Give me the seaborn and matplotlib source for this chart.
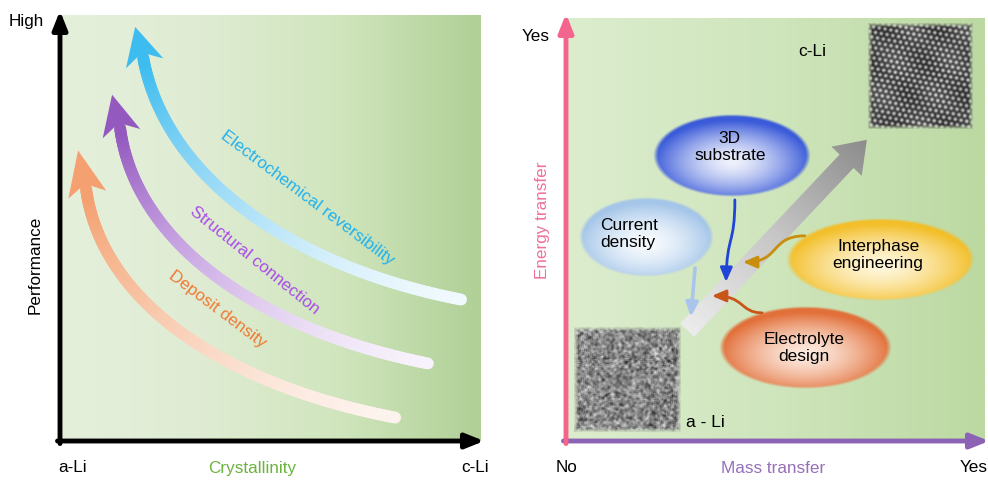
import numpy as np
import matplotlib
matplotlib.use('Agg')
import matplotlib.pyplot as plt
from matplotlib.patches import Polygon, FancyArrowPatch
from matplotlib.path import Path
from matplotlib.collections import LineCollection
from matplotlib.bezier import BezierSegment
import seaborn as sns

# ---------------- dane: lewy panel (jednostki osi 0..1) ----------------
left_xticks = [0.029, 0.988]
left_xticklabels = ['a-Li', 'c-Li']
left_yticks = [0.988]
left_yticklabels = ['High']
left_xlabel = 'Crystallinity'
left_ylabel = 'Performance'

curve_names = ['Deposit density', 'Structural connection', 'Electrochemical reversibility']
curve_head_colors = ['#f4a070', '#9459bf', '#3dbcef']
curve_mid_colors = ['#f8c6a8', '#c9a6e3', '#98d9f6']
curve_tail_colors = ['#fdf3ee', '#f7f2fb', '#f0f9fd']
curve_text_colors = ['#ef7a35', '#a94de8', '#22b2ee']
# punkty kontrolne krzywych Beziera: ogon, c1, c2, podstawa grotu
curve_ctrl = [
    [(0.798, 0.055), (0.40, 0.13), (0.10, 0.32), (0.062, 0.592)],
    [(0.876, 0.182), (0.48, 0.26), (0.18, 0.46), (0.143, 0.735)],
    [(0.955, 0.332), (0.55, 0.41), (0.25, 0.62), (0.198, 0.900)],
]
curve_tips = [(0.043, 0.682), (0.124, 0.813), (0.179, 0.972)]
curve_text_pos = [(0.376, 0.310), (0.464, 0.425), (0.590, 0.570)]
curve_text_rot = [-37, -39, -37]

# ---------------- dane: prawy panel ----------------
right_xticks = [0.0, 0.974]
right_xticklabels = ['No', 'Yes']
right_yticks = [0.96]
right_yticklabels = ['Yes']
right_xlabel = 'Mass transfer'
right_ylabel = 'Energy transfer'

ell_labels = ['3D\nsubstrate', 'Current\ndensity', 'Interphase\nengineering', 'Electrolyte\ndesign']
ell_centers = [(0.396, 0.676), (0.193, 0.482), (0.749, 0.428), (0.570, 0.220)]
ell_sizes = [(0.375, 0.196), (0.322, 0.189), (0.449, 0.196), (0.411, 0.194)]
ell_inner = ['#eef1fc', '#f8fbfe', '#fff7dc', '#fdeadf']
ell_outer = ['#3b5bd9', '#a5c6e9', '#f3bf2b', '#e2703a']
ell_text_pos = [(0.391, 0.695), (0.150, 0.489), (0.745, 0.440), (0.568, 0.220)]

big_arrow_tail = (0.289, 0.262)
big_arrow_tip = (0.718, 0.712)

# male strzalki: punkty kontrolne Beziera
small_arrows = [
    [(0.403, 0.570), (0.403, 0.463), (0.384, 0.487), (0.382, 0.376)],
    [(0.308, 0.409), (0.305, 0.370), (0.301, 0.332), (0.298, 0.293)],
    [(0.570, 0.485), (0.487, 0.485), (0.511, 0.423), (0.422, 0.423)],
    [(0.468, 0.303), (0.415, 0.303), (0.427, 0.343), (0.348, 0.343)],
]
small_arrow_colors = ['#1f44d8', '#a9c5ec', '#c98f0c', '#c85618']
small_arrow_widths = [2.0, 2.6, 2.0, 2.0]

img_aLi = [0.017, 0.277, 0.019, 0.270]
img_cLi = [0.718, 0.971, 0.735, 0.988]
phase_labels = ['c-Li', 'a - Li']
phase_label_pos = [(0.587, 0.920), (0.332, 0.043)]

sns.set_theme(style='white')
plt.rcParams['font.family'] = ['Liberation Sans', 'DejaVu Sans']

fig = plt.figure(figsize=(9.88, 4.8), dpi=100)
ax1 = fig.add_axes([60 / 988, 39 / 480, 420 / 988, 426 / 480])
ax2 = fig.add_axes([566 / 988, 39 / 480, 419 / 988, 423 / 480])


def background(ax, colors):
    pal = np.array(sns.blend_palette(colors, 256))[:, :3]
    ax.imshow(pal[np.newaxis, :, :], extent=[0, 1, 0, 1], aspect='auto', zorder=0)


def axis_arrows(ax, xcol, ycol):
    st = '-|>,head_width=0.22,head_length=0.55'
    ax.annotate('', xy=(1.01, 0), xytext=(-0.006, 0), xycoords='axes fraction',
                arrowprops=dict(arrowstyle=st, lw=3.5, color=xcol, mutation_scale=20,
                                shrinkA=0, shrinkB=0), annotation_clip=False, zorder=6)
    ax.annotate('', xy=(0, 1.01), xytext=(0, -0.006), xycoords='axes fraction',
                arrowprops=dict(arrowstyle=st, lw=3.5, color=ycol, mutation_scale=20,
                                shrinkA=0, shrinkB=0), annotation_clip=False, zorder=6)


# ---------------- lewy panel ----------------
background(ax1, ['#e5f0db', '#dfecd3', '#d0e5bd', '#b0d096'])
axis_arrows(ax1, 'black', 'black')

for ctrl, tip, hc, mc, tc in zip(curve_ctrl, curve_tips, curve_head_colors,
                                 curve_mid_colors, curve_tail_colors):
    pts = BezierSegment(np.array(ctrl))(np.linspace(0, 1, 160))
    segs = np.stack([pts[:-1], pts[1:]], axis=1)
    cmap = sns.blend_palette([tc, mc, hc], as_cmap=True)
    cols = cmap(np.linspace(0, 1, len(segs)) ** 1.5)
    ax1.add_collection(LineCollection(segs, colors=cols, linewidths=8.5,
                                      capstyle='round', zorder=2))
    base = np.array(ctrl[-1])
    tip = np.array(tip)
    d = (tip - base) / np.linalg.norm(tip - base)
    n = np.array([-d[1], d[0]])
    head = [tip, base + n * 0.046 - d * 0.014, base + d * 0.012, base - n * 0.046 - d * 0.014]
    ax1.add_patch(Polygon(head, closed=True, fc=hc, ec='none', zorder=2))

for name, pos, rot, col in zip(curve_names, curve_text_pos, curve_text_rot, curve_text_colors):
    ax1.text(pos[0], pos[1], name, rotation=rot, rotation_mode='anchor', ha='center',
             va='center', color=col, fontsize=12.3, zorder=3)

ax1.set_xticks(left_xticks, left_xticklabels)
ax1.set_yticks(left_yticks, left_yticklabels)
ax1.tick_params(axis='x', length=0, labelsize=12.3, pad=14, colors='black')
ax1.tick_params(axis='y', length=0, labelsize=12.3, pad=11.5, colors='black')
ax1.set_xlabel(left_xlabel, color='#6db33f', fontsize=12.3)
ax1.xaxis.set_label_coords(0.457, -0.047)
ax1.set_ylabel(left_ylabel, fontsize=12.3, va='center', color='black')
ax1.yaxis.set_label_coords(-0.06, 0.413)

# ---------------- prawy panel ----------------
background(ax2, ['#dcedce', '#cfe5bc', '#bcd9a2'])
axis_arrows(ax2, '#8c62b4', '#f4658e')

# tekstury obrazow TEM
n = 110
yy, xx = np.mgrid[0:n, 0:n].astype(float)
edge = np.minimum.reduce([xx, yy, n - 1 - xx, n - 1 - yy])
alpha_edge = np.clip(edge / 5.0, 0, 1)

k = 2 * np.pi / 5.2
lat = sum(np.cos(k * (xx * np.cos(a) + yy * np.sin(a))) for a in np.deg2rad([20, 80, 140]))
lat = (lat + 1.5) / 4.5 + 0.10 * np.cos(xx / 9.0 + yy / 23.0) * np.cos(yy / 11.0)
g_c = np.clip(0.20 + 0.62 * lat, 0, 1)
rgba_c = np.dstack([g_c, g_c, g_c, alpha_edge])

# ziarnista tekstura amorficzna (deterministyczny hash + lekkie wygladzenie)
h = np.sin(xx * 12.9898 + yy * 78.233) * 43758.5453
h = h - np.floor(h)
sm = sum(np.roll(np.roll(h, i, 0), j, 1) for i in (-1, 0, 1) for j in (-1, 0, 1)) / 9.0
sm = (sm - sm.mean()) / sm.std()
g_a = np.clip(0.53 + 0.11 * sm, 0, 1)
rgba_a = np.dstack([g_a, g_a, g_a, alpha_edge])

ax2.imshow(rgba_a, extent=img_aLi, origin='lower', aspect='auto', interpolation='bilinear', zorder=1)
ax2.imshow(rgba_c, extent=img_cLi, origin='lower', aspect='auto', interpolation='bilinear', zorder=1)

# duza szara strzalka z gradientem
x0, y0 = big_arrow_tail
dx, dy = big_arrow_tip[0] - x0, big_arrow_tip[1] - y0
arr = ax2.arrow(x0, y0, dx, dy, width=0.046, head_width=0.10, head_length=0.07,
                length_includes_head=True, fc='none', ec='none', zorder=2)
gx, gy = np.meshgrid(np.linspace(0, 1, 300), np.linspace(0, 1, 300))
u = np.clip(((gx - x0) * dx + (gy - y0) * dy) / (dx * dx + dy * dy), 0, 1)
gcmap = sns.blend_palette(['#ececec', '#c6c6c6', '#8c8c8c'], as_cmap=True)
grad = gcmap(u)
im = ax2.imshow(grad, extent=[0, 1, 0, 1], origin='lower', aspect='auto', zorder=2)
im.set_clip_path(arr)

# elipsy z gradientem radialnym
m = 240
ex, ey = np.meshgrid(np.linspace(-1, 1, m), np.linspace(-1, 1, m))
r = np.sqrt(ex ** 2 + ey ** 2)
rh = np.sqrt(ex ** 2 + (ey + 0.15) ** 2)
for (cx, cy), (w, hh), ci, co in zip(ell_centers, ell_sizes, ell_inner, ell_outer):
    cmap = sns.blend_palette([ci, co], as_cmap=True)
    rgba = cmap(np.clip(rh, 0, 1) ** 1.5)
    rgba[..., 3] = np.clip((1 - r) / 0.06, 0, 1)
    ax2.imshow(rgba, extent=[cx - w / 2, cx + w / 2, cy - hh / 2, cy + hh / 2], origin='lower',
               aspect='auto', interpolation='bilinear', zorder=3)

for lab, pos in zip(ell_labels, ell_text_pos):
    ax2.text(pos[0], pos[1], lab, ha='center', va='center', fontsize=12.5,
             multialignment='left' if lab.startswith('Current') else 'center',
             color='black', zorder=5)

for ctrl, col, lw in zip(small_arrows, small_arrow_colors, small_arrow_widths):
    p = Path(ctrl, [Path.MOVETO, Path.CURVE4, Path.CURVE4, Path.CURVE4])
    ax2.add_patch(FancyArrowPatch(path=p, arrowstyle='-|>,head_width=0.3,head_length=0.7',
                                  mutation_scale=12, lw=lw, color=col, zorder=4))

for lab, pos in zip(phase_labels, phase_label_pos):
    ax2.text(pos[0], pos[1], lab, ha='center', va='center', fontsize=12.5, color='black', zorder=5)

ax2.set_xticks(right_xticks, right_xticklabels)
ax2.set_yticks(right_yticks, right_yticklabels)
ax2.tick_params(axis='x', length=0, labelsize=12.3, pad=14, colors='black')
ax2.tick_params(axis='y', length=0, labelsize=12.3, pad=12, colors='black')
ax2.set_xlabel(right_xlabel, color='#9670b8', fontsize=12.3)
ax2.xaxis.set_label_coords(0.494, -0.047)
ax2.set_ylabel(right_ylabel, fontsize=12.3, va='center', color='#f0709a')
ax2.yaxis.set_label_coords(-0.055, 0.522)

for ax in (ax1, ax2):
    ax.set_xlim(0, 1)
    ax.set_ylim(0, 1)
    ax.grid(False)
    for s in ax.spines.values():
        s.set_visible(False)

plt.savefig('out.png', dpi=100)
